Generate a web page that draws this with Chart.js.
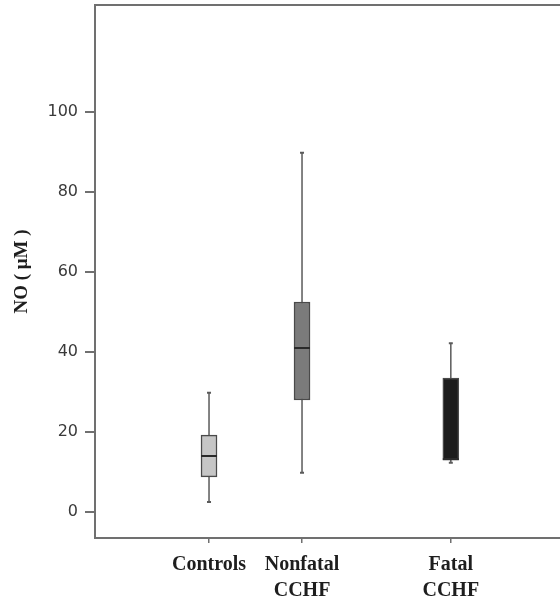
<!DOCTYPE html>
<html>
<head>
<meta charset="utf-8">
<title>NO levels</title>
<script src="https://cdn.jsdelivr.net/npm/chart.js@4/dist/chart.umd.min.js"></script>
<style>
  html, body { margin: 0; padding: 0; background: #fff; }
  canvas { display: block; }
</style>
</head>
<body>
<canvas id="noChart" width="560" height="601"></canvas>
<script>
// groups and where they sit on the x axis
const groups = [["Controls"], ["Nonfatal", "CCHF"], ["Fatal", "CCHF"]];
const groupPos = [1, 2, 3.6];

// box plot values (µM)
const mins    = [2.5, 9.8, 12.3];
const q1s     = [8.8, 28, 13];
const medians = [14, 41, 13.2];
const q3s     = [19.2, 52.5, 33.5];
const maxs    = [29.8, 89.8, 42.2];

const boxColors = ["#c6c6c6", "#7b7b7b", "#1c1c1c"];
const yTicks = [0, 20, 40, 60, 80, 100];

const axisGray = "#707070";

// whiskers go under the boxes, medians on top of them
const boxPlotExtras = {
  id: "boxPlotExtras",
  beforeDatasetsDraw(chart) {
    const { ctx, scales: { x, y } } = chart;
    ctx.save();
    ctx.strokeStyle = "#5a5a5a";
    groupPos.forEach((p, i) => {
      const px = x.getPixelForValue(p);
      const top = y.getPixelForValue(maxs[i]);
      const bot = y.getPixelForValue(mins[i]);
      ctx.lineWidth = 1.5;
      ctx.beginPath();
      ctx.moveTo(px, top);
      ctx.lineTo(px, bot);
      ctx.stroke();
      ctx.lineWidth = 2;
      ctx.beginPath();
      ctx.moveTo(px - 2, top); ctx.lineTo(px + 2, top);
      ctx.moveTo(px - 2, bot); ctx.lineTo(px + 2, bot);
      ctx.stroke();
    });
    ctx.restore();
  },
  afterDatasetsDraw(chart) {
    const { ctx, scales: { y }, chartArea } = chart;
    const meta = chart.getDatasetMeta(0);
    ctx.save();
    ctx.strokeStyle = "#2a2a2a";
    ctx.lineWidth = 2;
    meta.data.forEach((bar, i) => {
      const half = bar.width / 2;
      const py = y.getPixelForValue(medians[i]);
      ctx.beginPath();
      ctx.moveTo(bar.x - half, py);
      ctx.lineTo(bar.x + half, py);
      ctx.stroke();
    });
    // frame line along the top
    ctx.strokeStyle = axisGray;
    ctx.lineWidth = 2;
    ctx.beginPath();
    ctx.moveTo(chartArea.left - 1, chartArea.top);
    ctx.lineTo(chartArea.right, chartArea.top);
    ctx.stroke();
    ctx.restore();
  }
};

new Chart(document.getElementById("noChart"), {
  type: "bar",
  data: {
    datasets: [{
      data: groupPos.map((p, i) => ({ x: p, y: [q1s[i], q3s[i]] })),
      backgroundColor: boxColors,
      borderColor: "#4a4a4a",
      borderWidth: 1.5,
      borderSkipped: false,
      barThickness: 16
    }]
  },
  options: {
    responsive: false,
    animation: false,
    layout: { padding: { top: 5, right: 0, left: 0, bottom: 0 } },
    plugins: { legend: { display: false }, tooltip: { enabled: false } },
    scales: {
      x: {
        type: "linear",
        offset: false,
        min: -0.226,
        max: 4.774,
        afterBuildTicks: (scale) => { scale.ticks = groupPos.map(v => ({ value: v })); },
        afterFit: (scale) => { scale.height = 63; scale.paddingLeft = 0; scale.paddingRight = 0; },
        grid: { offset: false, drawOnChartArea: false, drawTicks: true, tickLength: 5, color: axisGray, lineWidth: 1.5 },
        border: { color: axisGray, width: 2 },
        ticks: {
          autoSkip: false,
          maxRotation: 0,
          padding: 9,
          color: "#1e1e1e",
          font: { family: "'Liberation Serif', 'Times New Roman', serif", size: 20, weight: "bold", lineHeight: 1.3 },
          callback: (v) => {
            const i = groupPos.indexOf(v);
            return i >= 0 ? groups[i] : "";
          }
        }
      },
      y: {
        min: -6.5,
        max: 126.75,
        afterBuildTicks: (scale) => { scale.ticks = yTicks.map(v => ({ value: v })); },
        afterFit: (scale) => { scale.width = 95; scale.paddingTop = 0; scale.paddingBottom = 0; },
        grid: { drawOnChartArea: false, drawTicks: true, tickLength: 10, color: axisGray, lineWidth: 2 },
        border: { color: axisGray, width: 2 },
        ticks: {
          padding: 7,
          color: "#3a3a3a",
          font: { family: "'DejaVu Sans', sans-serif", size: 16 }
        },
        title: {
          display: true,
          text: "NO ( μM )",
          color: "#1e1e1e",
          padding: { top: 11, bottom: 0 },
          font: { family: "'Liberation Serif', 'Times New Roman', serif", size: 19, weight: "bold" }
        }
      }
    }
  },
  plugins: [boxPlotExtras]
});
</script>
</body>
</html>
